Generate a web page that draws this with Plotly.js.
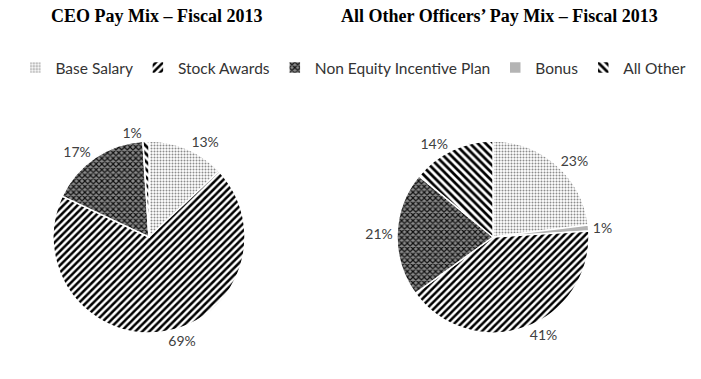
<!DOCTYPE html>
<html>
<head>
<meta charset="utf-8">
<script src="https://cdn.plot.ly/plotly-3.0.1.min.js"></script>
<style>html,body{margin:0;padding:0;background:#fff}#chart{width:701px;height:379px}</style>
</head>
<body>
<div id="chart"></div>
<script>
// Data
var ceoLabels = ['Base Salary', 'Stock Awards', 'Non Equity Incentive Plan', 'Bonus', 'All Other'];
var ceoValues = [13, 69, 17, 0, 1];
var otherLabels = ['Base Salary', 'Bonus', 'Stock Awards', 'Non Equity Incentive Plan', 'All Other'];
var otherValues = [23, 1, 41, 21, 14];
var titles = ['CEO Pay Mix \u2013 Fiscal 2013', 'All Other Officers\u2019 Pay Mix \u2013 Fiscal 2013'];

var styles = {
  'Base Salary': {color: '#ffffff', shape: '.', fg: '#8c8c8c', bg: '#ffffff', size: 3, solidity: 0.35},
  'Stock Awards': {color: '#ffffff', shape: '/', fg: '#000000', bg: '#ffffff', size: 5, solidity: 0.5},
  'Non Equity Incentive Plan': {color: '#555555', shape: 'x', fg: '#111111', bg: '#8a8a8a', size: 4, solidity: 0.5},
  'Bonus': {color: '#b4b4b4', shape: '', fg: '#b4b4b4', bg: '#b4b4b4', size: 4, solidity: 0.3},
  'All Other': {color: '#ffffff', shape: '\\', fg: '#000000', bg: '#ffffff', size: 5.5, solidity: 0.5}
};

function makeMarker(labels) {
  return {
    colors: labels.map(function (l) { return styles[l].color; }),
    line: {color: '#ffffff', width: 1.5},
    pattern: {
      shape: labels.map(function (l) { return styles[l].shape; }),
      fgcolor: labels.map(function (l) { return styles[l].fg; }),
      bgcolor: labels.map(function (l) { return styles[l].bg; }),
      size: labels.map(function (l) { return styles[l].size; }),
      solidity: labels.map(function (l) { return styles[l].solidity; }),
      fillmode: 'replace'
    }
  };
}

function pct(values) {
  return values.map(function (v) { return v > 0 ? v + '%' : ''; });
}

var W = 701, H = 379;
function dom(cx, cy, r) {
  return {x: [(cx - r) / W, (cx + r) / W], y: [1 - (cy + r) / H, 1 - (cy - r) / H]};
}

var labelFont = {family: 'Lato, sans-serif', size: 14, color: '#404040'};

var traces = [
  {
    type: 'pie', labels: ceoLabels, values: ceoValues, sort: false, direction: 'clockwise', rotation: 0,
    text: pct(ceoValues), textinfo: 'text', textposition: 'outside',
    outsidetextfont: labelFont,
    marker: makeMarker(ceoLabels), domain: dom(149, 237, 96), hoverinfo: 'label+percent'
  },
  {
    type: 'pie', labels: otherLabels, values: otherValues, sort: false, direction: 'clockwise', rotation: 0,
    text: pct(otherValues), textinfo: 'text', textposition: 'outside',
    outsidetextfont: labelFont,
    marker: makeMarker(otherLabels), domain: dom(493, 237, 96), hoverinfo: 'label+percent'
  }
];

var layout = {
  width: W, height: H,
  margin: {l: 0, r: 0, t: 0, b: 0},
  paper_bgcolor: '#ffffff',
  showlegend: true,
  legend: {
    orientation: 'h', x: 0.022, xanchor: 'left', y: 1 - 68 / H, yanchor: 'middle',
    font: {family: 'Lato, sans-serif', size: 15.5, color: '#333333'},
    itemwidth: 30, tracegroupgap: 0
  },
  annotations: [
    {text: '<b>' + titles[0] + '</b>', x: 156 / W, y: 1 - 16 / H, xref: 'paper', yref: 'paper', showarrow: false,
     xanchor: 'center', yanchor: 'middle', font: {family: 'Liberation Serif, serif', size: 18, color: '#000'}},
    {text: '<b>' + titles[1] + '</b>', x: 499 / W, y: 1 - 16 / H, xref: 'paper', yref: 'paper', showarrow: false,
     xanchor: 'center', yanchor: 'middle', font: {family: 'Liberation Serif, serif', size: 18, color: '#000'}}
  ]
};

Plotly.newPlot('chart', traces, layout, {displayModeBar: false, staticPlot: true});
</script>
</body>
</html>
